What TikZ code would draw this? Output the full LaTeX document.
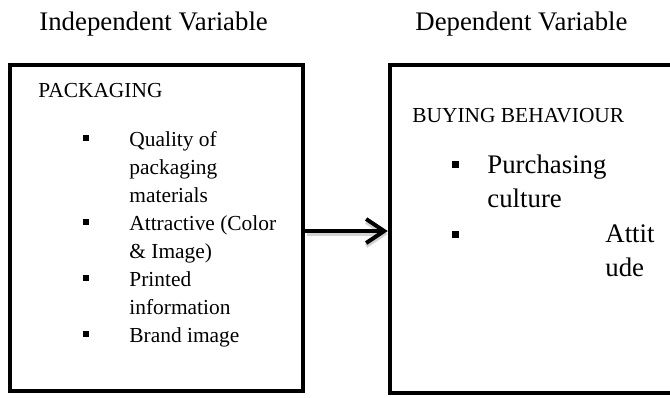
\documentclass[tikz,border=0pt]{standalone}
\usepackage{fontspec}
\setmainfont{Liberation Serif}
\usetikzlibrary{arrows.meta,calc}

\tikzset{
  box/.style={draw, line width=2.25pt, inner sep=0pt},
  lbl/.style={anchor=base west, inner sep=0pt},
  big/.style={font=\fontsize{13.4}{16}\selectfont},
  small/.style={font=\fontsize{10.7}{13}\selectfont},
  bullet/.style={fill, inner sep=0pt, minimum size=3pt},
  arr/.style={line width=2pt, -{Straight Barb[length=9pt,width=12pt]}}
}

\begin{document}
\begin{tikzpicture}[x=0.5pt,y=-0.5pt]

\clip (0,0) rectangle (670,397);

% headings
\node[lbl,big] (indep) at (39,30) {Independent Variable};
\node[lbl,big] (dep) at (415,30) {Dependent Variable};

% boxes
\node[box, minimum width=146.5pt, minimum height=163pt] (pack) at (156.5,228) {};
\node[box, minimum width=165pt, minimum height=164pt] (buy) at (555,229) {};

% left box
\node[lbl,small] (packtitle) at (38,97) {PACKAGING};
\foreach \t [count=\i] in {{Quality of},{packaging},{materials},{Attractive (Color},{\& Image)},{Printed},{information},{Brand image}}
  \node[lbl,small] (p\i) at (129,{118+28*\i}) {\t};
\foreach \i in {1,4,6,8}
  \node[bullet] (pb\i) at (86,{110+28*\i}) {};

% right box
\node[lbl,small] (buytitle) at (412,122) {BUYING BEHAVIOUR};
\node[lbl,big] (r1) at (487,173) {Purchasing};
\node[lbl,big] (r2) at (487,207) {culture};
\node[lbl,big] (r3) at (605,242) {Attit};
\node[lbl,big] (r4) at (605,276) {ude};
\node[bullet, minimum size=3.5pt] (rb1) at (455,164) {};
\node[bullet, minimum size=3.5pt] (rb2) at (455,234) {};

% arrow
\draw[arr, gray!35] ($(pack.east)+(2,6)$) -- ($(pack.east -| buy.west)+(0,6)$);
\draw[arr] ($(pack.east)+(0,3)$) -- ($(pack.east -| buy.west)+(0,3)$);

\end{tikzpicture}
\end{document}
